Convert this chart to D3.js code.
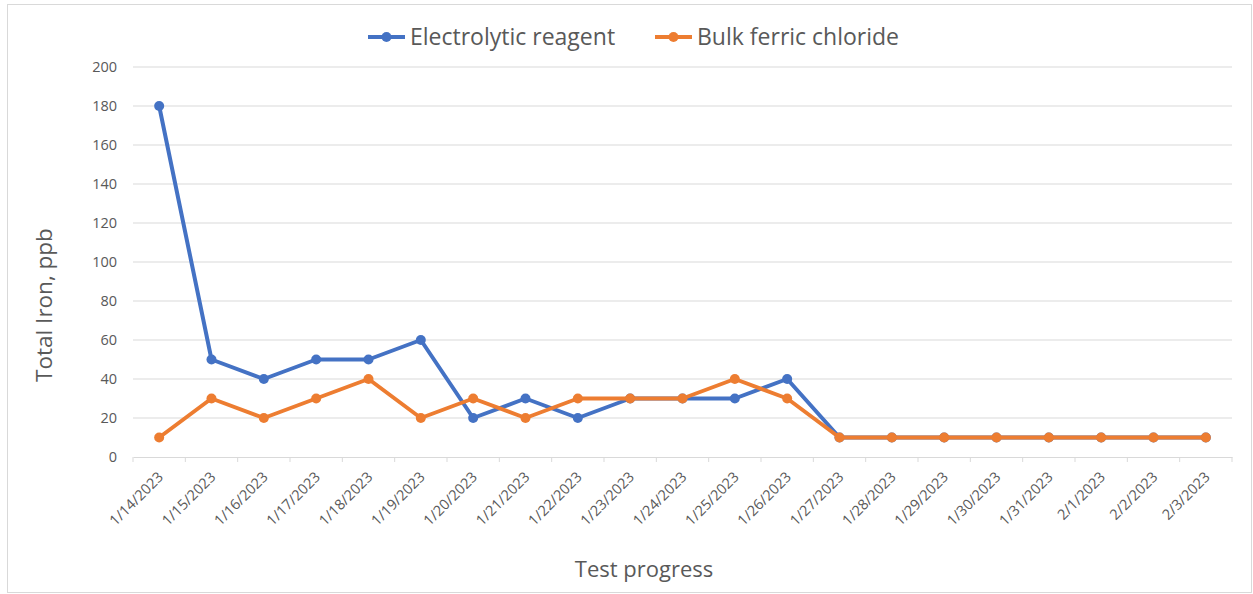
<!DOCTYPE html>
<html><head><meta charset="utf-8">
<script src="https://cdn.jsdelivr.net/npm/d3@7"></script>
<style>body{margin:0;background:#fff}svg{display:block}</style>
</head><body>
<svg id="c" width="1253" height="594"></svg>
<script>
const categories = ["1/14/2023","1/15/2023","1/16/2023","1/17/2023","1/18/2023","1/19/2023","1/20/2023","1/21/2023","1/22/2023","1/23/2023","1/24/2023","1/25/2023","1/26/2023","1/27/2023","1/28/2023","1/29/2023","1/30/2023","1/31/2023","2/1/2023","2/2/2023","2/3/2023"];
const electrolytic = [180,50,40,50,50,60,20,30,20,30,30,30,40,10,10,10,10,10,10,10,10];
const bulkFerric = [10,30,20,30,40,20,30,20,30,30,30,40,30,10,10,10,10,10,10,10,10];
const yTicks = [0,20,40,60,80,100,120,140,160,180,200];
const seriesNames = ["Electrolytic reagent","Bulk ferric chloride"];
const colors = ["#4472C4","#ED7D31"];

const font = "'Open Sans', 'Noto Sans', sans-serif";
const svg = d3.select("#c");
svg.append("rect").attr("x",7.5).attr("y",4.5).attr("width",1244).attr("height",588)
  .attr("fill","#fff").attr("stroke","#d9d9d9");

const L=133,R=1232,T=67,B=457;
const x = d3.scaleBand().domain(categories).range([L,R]);
const y = d3.scaleLinear().domain([0,200]).range([B,T]);

// grid
svg.append("g").selectAll("line").data(yTicks.filter(d=>d>0)).join("line")
  .attr("x1",L).attr("x2",R).attr("y1",d=>y(d)).attr("y2",d=>y(d))
  .attr("stroke","#d9d9d9").attr("stroke-width",1);

// y labels
svg.append("g").selectAll("text").data(yTicks).join("text")
  .attr("x",117).attr("y",d=>y(d)).attr("dy","0.35em").attr("text-anchor","end")
  .attr("font-family",font).attr("font-size",14.5).attr("fill","#595959").text(d=>d);

// x axis
const xa = svg.append("g").attr("transform",`translate(0,${B})`)
  .call(d3.axisBottom(x).tickSize(0).tickSizeOuter(0));
xa.select(".domain").attr("stroke","#d9d9d9").attr("stroke-width",1);
xa.selectAll(".tick text")
  .attr("font-family",font).attr("font-size",14.5).attr("fill","#595959")
  .attr("text-anchor","end").attr("dy",0).attr("y",0)
  .attr("transform",`translate(5,21) rotate(-45)`);
// tick marks at band boundaries
const bounds = categories.map(c=>x(c)).concat([R]);
svg.append("g").selectAll("line").data(bounds).join("line")
  .attr("x1",d=>d).attr("x2",d=>d).attr("y1",B).attr("y2",B+5)
  .attr("stroke","#d9d9d9");

const series=[electrolytic,bulkFerric];
const line = d3.line().x((d,i)=>x(categories[i])+x.bandwidth()/2).y(d=>y(d));
series.forEach((s,k)=>{
  svg.append("path").datum(s).attr("d",line).attr("fill","none")
    .attr("stroke",colors[k]).attr("stroke-width",4).attr("stroke-linejoin","round");
  svg.append("g").selectAll("circle").data(s).join("circle")
    .attr("cx",(d,i)=>x(categories[i])+x.bandwidth()/2).attr("cy",d=>y(d)).attr("r",5)
    .attr("fill",colors[k]);
});

// axis titles
svg.append("text").attr("transform","translate(52,305) rotate(-90)").attr("text-anchor","middle")
  .attr("font-family",font).attr("font-size",22.5).attr("fill","#595959").text("Total Iron, ppb");
svg.append("text").attr("x",644).attr("y",577).attr("text-anchor","middle")
  .attr("font-family",font).attr("font-size",22).attr("fill","#595959").text("Test progress");

// legend
const legX=[368,655];
seriesNames.forEach((n,k)=>{
  const g=svg.append("g");
  g.append("line").attr("x1",legX[k]).attr("x2",legX[k]+37).attr("y1",37).attr("y2",37)
    .attr("stroke",colors[k]).attr("stroke-width",4);
  g.append("circle").attr("cx",legX[k]+18.5).attr("cy",37).attr("r",5).attr("fill",colors[k]);
  g.append("text").attr("x",legX[k]+42).attr("y",37).attr("dy","0.35em")
    .attr("font-family",font).attr("font-size",23).attr("fill","#595959").text(n);
});
</script>
</body></html>
